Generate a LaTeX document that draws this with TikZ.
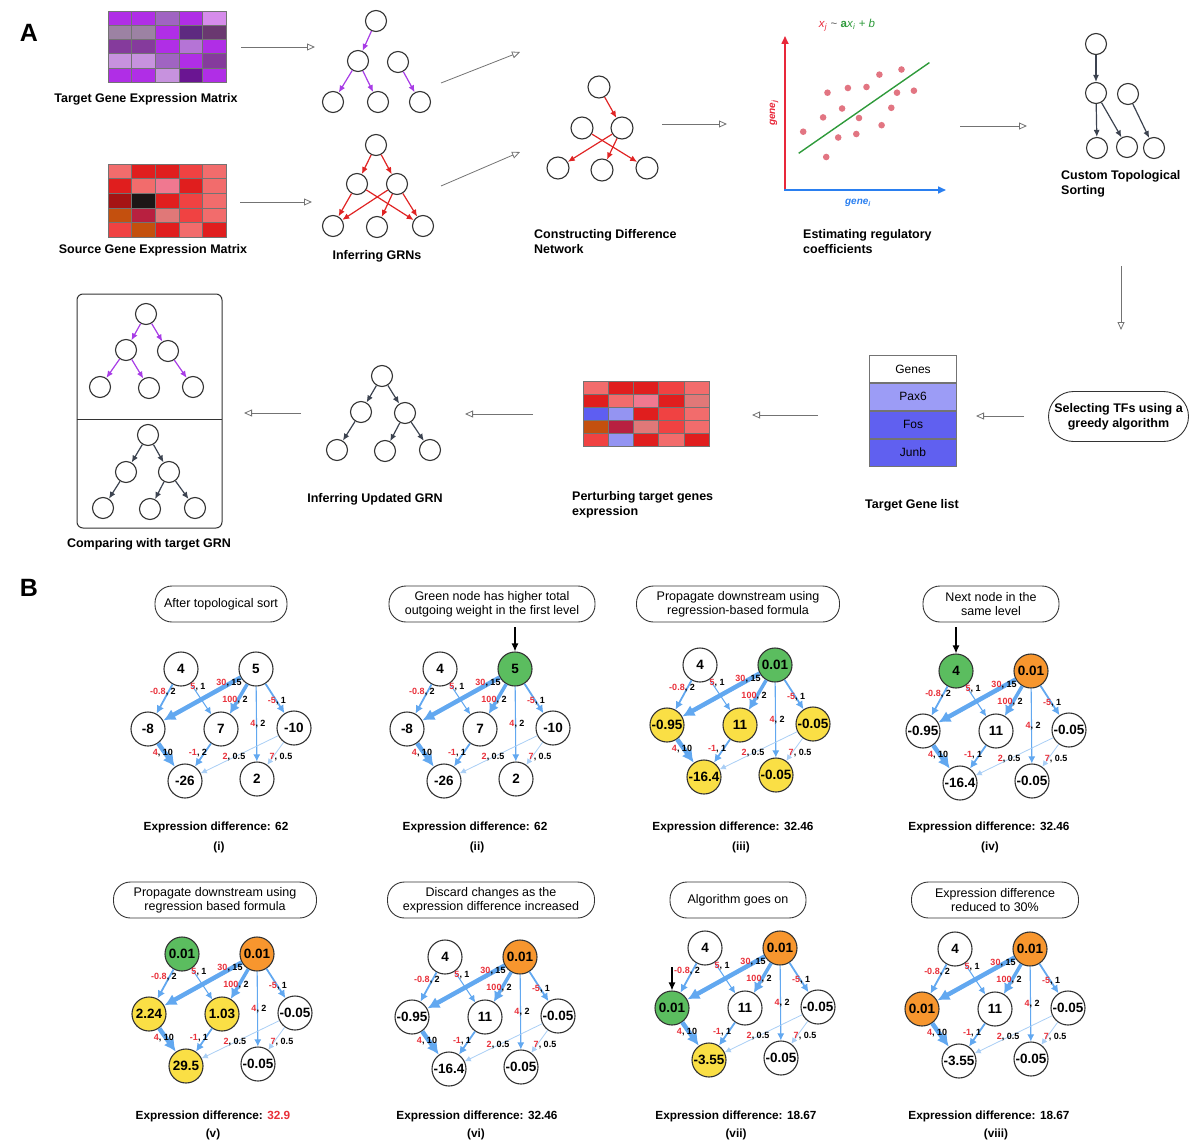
\documentclass[tikz,border=0pt]{standalone}
\usepackage{fontspec}
\setmainfont{Liberation Sans}
\usetikzlibrary{arrows.meta}
\usetikzlibrary{positioning}

\definecolor{ndark}{HTML}{333333}
\definecolor{purpE}{HTML}{A83CE6}
\definecolor{redE}{HTML}{E02424}
\definecolor{dkE}{HTML}{3C4350}
\definecolor{eblue}{HTML}{62A8F0}
\definecolor{elight}{HTML}{A9CEF5}
\definecolor{lred}{HTML}{E8303A}
\definecolor{ngreen}{HTML}{5BBD5F}
\definecolor{norange}{HTML}{F7962E}
\definecolor{nyellow}{HTML}{FADF45}
\definecolor{axred}{HTML}{E8283A}
\definecolor{axblue}{HTML}{2A7FF0}
\definecolor{lgreen}{HTML}{2E9A3A}
\definecolor{dotc}{HTML}{E27582}
% heat map colours
\definecolor{pu1}{HTML}{B02EE6}
\definecolor{pu2}{HTML}{D68CEB}
\definecolor{pu3}{HTML}{9C82A3}
\definecolor{pu4}{HTML}{853B9C}
\definecolor{pu5}{HTML}{5E2A80}
\definecolor{pu6}{HTML}{C792DE}
\definecolor{pu7}{HTML}{A064C2}
\definecolor{pu8}{HTML}{6A1592}
\definecolor{pu9}{HTML}{B574D6}
\definecolor{pu0}{HTML}{6A3870}
\definecolor{re1}{HTML}{F26C6C}
\definecolor{re2}{HTML}{E01E1E}
\definecolor{re3}{HTML}{F04242}
\definecolor{re4}{HTML}{F07890}
\definecolor{re5}{HTML}{A51414}
\definecolor{re6}{HTML}{1C1616}
\definecolor{re7}{HTML}{C4500E}
\definecolor{re8}{HTML}{B82040}
\definecolor{re9}{HTML}{E07878}
\definecolor{bl1}{HTML}{5E5EF2}
\definecolor{bl2}{HTML}{9494F2}
\definecolor{gl1}{HTML}{9C9CF6}
\definecolor{gl2}{HTML}{6060F0}

\newcommand{\wred}[1]{\textcolor{lred}{#1}}

\newcommand{\heatmap}[5]{%
  \foreach \row [count=\r] in {#5} {
    \foreach \c [count=\k] in \row {
      \filldraw[fill=\c, draw=black!55, line width=0.5pt] ({#1+(\k-1)*#3},{#2+(\r-1)*#4}) rectangle ++(#3,#4);
    }
  }
}

\newcommand{\grnstep}[9]{%
  \node[bnode] (#1a) at (0,0) #2;
  \node[bnode] (#1b) at (75,0) #3;
  \node[bnode] (#1c) at (-33,60) #4;
  \node[bnode] (#1d) at (40,60) #5;
  \node[bnode] (#1e) at (113,59) #6;
  \node[bnode] (#1f) at (4,112) #7;
  \node[bnode] (#1g) at (76,110) #8;
  \draw[ew3] (#1a) -- (#1c);
  \draw[ew2] (#1a) -- (#1d);
  \draw[ew5] (#1b) -- (#1c);
  \draw[ew4] (#1b) -- (#1d);
  \draw[ew3] (#1b) -- (#1e);
  \draw[ew2] (#1b) -- (#1g);
  \draw[ew5] (#1c) -- (#1f);
  \draw[ew3] (#1d) -- (#1f);
  \draw[ew1] (#1e) -- (#1f);
  \draw[ew1] (#1e) -- (#1g);
  \node[wlab] (#1w1) at (-18,23) {\wred{-0.8}, 2};
  \node[wlab] (#1w2) at (17,18) {\wred{5}, 1};
  \node[wlab] (#1w3) at (48,14) {\wred{30}, 15};
  \node[wlab] (#1w4) at (54,31) {\wred{100}, 2};
  \node[wlab] (#1w5) at (96,32) {\wred{-5}, 1};
  \node[wlab] (#1w6) at (77,55) {\wred{4}, 2};
  \node[wlab] (#1w7) at (-18,84) {\wred{4}, 10};
  \node[wlab] (#1w8) at (17,84) {\wred{-1}, #9};
  \node[wlab] (#1w9) at (53,88) {\wred{2}, 0.5};
  \node[wlab] (#1w10) at (100,88) {\wred{7}, 0.5};
}

\begin{document}
\begin{tikzpicture}[x=1pt, y=-1pt,
    snode/.style={circle, draw=ndark, line width=1.1pt, minimum size=21pt, inner sep=0pt},
    flow/.style={draw=black!55, line width=0.8pt, -{Triangle[open, length=8pt, width=7pt]}},
    pedge/.style={draw=purpE, line width=1.2pt, -{Latex[length=7pt, width=6pt]}, color=purpE},
    redge/.style={draw=redE, line width=1.2pt, -{Latex[length=7pt, width=6pt]}, color=redE},
    dedge/.style={draw=dkE, line width=1.2pt, -{Latex[length=7pt, width=6pt]}, color=dkE},
    albl/.style={font=\bfseries\fontsize{12.5}{15}\selectfont, align=left, inner sep=0pt},
    bnode/.style={circle, draw=ndark, line width=1.1pt, minimum size=34pt, inner sep=0pt, font=\bfseries\fontsize{13.5}{13.5}\selectfont},
    wnode/.style={fill=white}, gnode/.style={fill=ngreen}, onode/.style={fill=norange}, ynode/.style={fill=nyellow},
    ew1/.style={draw=elight, color=elight, line width=0.8pt, -{Latex[length=6pt, width=6pt]}},
    ew2/.style={draw=eblue, color=eblue, line width=1.1pt, -{Latex[length=7pt, width=7pt]}},
    ew3/.style={draw=eblue, color=eblue, line width=1.8pt, -{Latex[length=8pt, width=8pt]}},
    ew4/.style={draw=eblue, color=eblue, line width=3.5pt, -{Latex[length=10pt, width=11pt]}},
    ew5/.style={draw=eblue, color=eblue, line width=4.5pt, -{Latex[length=12pt, width=12pt]}},
    wlab/.style={font=\bfseries\fontsize{9}{9}\selectfont, inner sep=0.5pt},
    callout/.style={draw=ndark, line width=0.9pt, rounded corners=17pt, minimum height=36pt, align=center, font=\fontsize{12.5}{14}\selectfont},
    exlbl/.style={font=\bfseries\fontsize{11.8}{12}\selectfont},
    karrow/.style={draw=black, line width=1.2pt, -{Latex[length=8pt, width=7pt]}},
    gbox/.style={draw=black!55, line width=0.8pt, minimum width=87pt, minimum height=27pt, inner sep=0pt, font=\fontsize{12}{12}\selectfont}
  ]
  \useasboundingbox (0,0) rectangle (1200,1148);

  % ---------------- panel A ----------------
  \node[font=\bfseries\fontsize{25}{25}\selectfont] (pA) at (29,33) {A};

  % expression matrices
  \heatmap{108}{11}{23.6}{14.2}{{pu1,pu1,pu7,pu1,pu2},{pu3,pu3,pu1,pu5,pu0},{pu4,pu4,pu1,pu9,pu1},{pu6,pu6,pu7,pu1,pu4},{pu1,pu1,pu6,pu8,pu1}}
  \heatmap{108}{164}{23.6}{14.6}{{re1,re2,re2,re3,re1},{re2,re1,re4,re2,re1},{re5,re6,re2,re3,re1},{re7,re8,re9,re3,re1},{re3,re7,re2,re1,re2}}
  \node[albl] (tgtlbl) at (146,99) {Target Gene Expression Matrix};
  \node[albl] (srclbl) at (153,250) {Source Gene Expression Matrix};

  % target GRN
  \node[snode] (t1) at (376,21) {};
  \node[snode] (t2) at (358,61) {};
  \node[snode] (t3) at (398,62) {};
  \node[snode] (t4) at (333,102) {};
  \node[snode] (t5) at (378,102) {};
  \node[snode] (t6) at (420,102) {};
  \draw[pedge] (t1) -- (t2);
  \draw[pedge] (t2) -- (t4);
  \draw[pedge] (t2) -- (t5);
  \draw[pedge] (t3) -- (t6);

  % source GRN
  \node[snode] (s1) at (376,145) {};
  \node[snode] (s2) at (357,184) {};
  \node[snode] (s3) at (397,184) {};
  \node[snode] (s4) at (333,226) {};
  \node[snode] (s5) at (377,227) {};
  \node[snode] (s6) at (423,226) {};
  \draw[redge] (s1) -- (s2);
  \draw[redge] (s1) -- (s3);
  \draw[redge] (s2) -- (s4);
  \draw[redge] (s2) -- (s6);
  \draw[redge] (s3) -- (s4);
  \draw[redge] (s3) -- (s5);
  \draw[redge] (s3) -- (s6);
  \node[albl] (inflbl) at (377,256) {Inferring GRNs};

  % difference network
  \node[snode, minimum size=22pt] (d1) at (599,87) {};
  \node[snode, minimum size=22pt] (d2) at (582,128) {};
  \node[snode, minimum size=22pt] (d3) at (622,128) {};
  \node[snode, minimum size=22pt] (d4) at (558,168) {};
  \node[snode, minimum size=22pt] (d5) at (602,170) {};
  \node[snode, minimum size=22pt] (d6) at (647,168) {};
  \draw[redge] (d1) -- (d3);
  \draw[redge] (d2) -- (d6);
  \draw[redge] (d3) -- (d4);
  \draw[redge] (d3) -- (d5);
  \node[albl, anchor=west] (difflbl) at (534,241.5) {Constructing Difference\\Network};

  % regression plot
  \draw[draw=axred, line width=1.6pt, -{Triangle[length=8pt, width=7pt]}, color=axred] (785,190.8) -- (785,36);
  \draw[draw=axblue, line width=1.6pt, -{Triangle[length=8pt, width=7pt]}, color=axblue] (784.2,190) -- (946,190);
  \foreach \px/\py in {827.5/92.7, 847.9/88, 866.5/87, 879.4/74.6, 901.5/69.5, 897/92.7, 913.9/90.7, 842.1/108.5, 823.1/117.4, 859/118, 891.3/107.8, 803.2/131.7, 838.2/137.5, 856.3/134, 881.6/125.2, 826.2/157}
    \fill[dotc] (\px,\py) circle (3.3);
  \draw[lgreen, line width=1.4pt] (798.7,153.3) -- (929.4,62.6);
  \node[rotate=90, text=axred, font=\bfseries\itshape\fontsize{10}{10}\selectfont] (ylbl) at (774,113) {gene\textsubscript{j}};
  \node[text=axblue, font=\bfseries\itshape\fontsize{10}{10}\selectfont] (xlbl) at (858,203) {gene\textsubscript{i}};
  \node[font=\fontsize{11.5}{11.5}\selectfont] (formula) at (847,25) {\textcolor{axred}{\textit{x}\textsubscript{\textit{j}}} \textcolor{black!65}{\textasciitilde} \textcolor{lgreen}{\textbf{a}\textit{x}\textsubscript{\textit{i}} + \textit{b}}};
  \node[albl, anchor=west] (estlbl) at (803,241.5) {Estimating regulatory\\coefficients};

  % topological sort
  \node[snode] (o1) at (1096,44) {};
  \node[snode] (o2) at (1096,93) {};
  \node[snode] (o3) at (1128,94) {};
  \node[snode] (o4) at (1097,148) {};
  \node[snode] (o5) at (1127,147) {};
  \node[snode] (o6) at (1154,148) {};
  \draw[dedge] (o1) -- (o2);
  \draw[dedge] (o2) -- (o4);
  \draw[dedge] (o2) -- (o5);
  \draw[dedge] (o3) -- (o6);
  \node[albl, anchor=west] (toplbl) at (1061,183.5) {Custom Topological\\Sorting};

  % greedy selection and gene list
  \node[draw=ndark, line width=0.9pt, rounded corners=25pt, minimum width=140pt, minimum height=50pt, align=center, font=\bfseries\fontsize{12.5}{15}\selectfont, inner sep=1pt] (greedy) at (1118.5,416.5) {Selecting TFs using a\\greedy algorithm};
  \node[gbox, fill=white] (genes) at (913,369) {Genes};
  \node[gbox, fill=gl1, below=0pt of genes] (pax6) {Pax6};
  \node[gbox, fill=gl2, below=0pt of pax6] (fos) {Fos};
  \node[gbox, fill=gl2, below=0pt of fos] (junb) {Junb};
  \node[albl] (listlbl) at (912,505.5) {Target Gene list};

  % perturbed expression
  \heatmap{583}{381}{25.2}{13.1}{{re1,re2,re2,re3,re1},{re2,re1,re4,re2,re9},{bl1,bl2,re2,re3,re1},{re7,re8,re9,re3,re1},{re3,bl2,re2,re1,re2}}
  \node[albl, anchor=west] (pertlbl) at (572,505) {Perturbing target genes\\expression};

  % updated GRN
  \node[snode] (u1) at (382,376) {};
  \node[snode] (u2) at (361,412) {};
  \node[snode] (u3) at (405,413) {};
  \node[snode] (u4) at (337,450) {};
  \node[snode] (u5) at (385,451) {};
  \node[snode] (u6) at (430,450) {};
  \draw[dedge] (u1) -- (u2);
  \draw[dedge] (u1) -- (u3);
  \draw[dedge] (u2) -- (u4);
  \draw[dedge] (u3) -- (u5);
  \draw[dedge] (u3) -- (u6);
  \node[albl] (updlbl) at (375,499) {Inferring Updated GRN};

  % comparison box
  \node[draw=ndark, line width=1pt, rounded corners=6pt, minimum width=145pt, minimum height=234pt] (cmpbox) at (149.5,411) {};
  \draw[ndark, line width=1pt] (cmpbox.west) ++(0,8.5) -- ++(145,0);
  \node[snode] (c1) at (146,314) {};
  \node[snode] (c2) at (126,350) {};
  \node[snode] (c3) at (168,351) {};
  \node[snode] (c4) at (100,387) {};
  \node[snode] (c5) at (149,388) {};
  \node[snode] (c6) at (193,387) {};
  \draw[pedge] (c1) -- (c2);
  \draw[pedge] (c1) -- (c3);
  \draw[pedge] (c2) -- (c4);
  \draw[pedge] (c2) -- (c5);
  \draw[pedge] (c3) -- (c6);
  \node[snode] (k1) at (148,435) {};
  \node[snode] (k2) at (126,472) {};
  \node[snode] (k3) at (169,472) {};
  \node[snode] (k4) at (103,508) {};
  \node[snode] (k5) at (150,509) {};
  \node[snode] (k6) at (195,508) {};
  \draw[dedge] (k1) -- (k2);
  \draw[dedge] (k1) -- (k3);
  \draw[dedge] (k2) -- (k4);
  \draw[dedge] (k3) -- (k5);
  \draw[dedge] (k3) -- (k6);
  \node[albl] (cmplbl) at (149,544) {Comparing with target GRN};

  % workflow arrows
  \coordinate (f1s) at (241,47);   \coordinate (f1e) at (315,47);
  \coordinate (f2s) at (240,202);  \coordinate (f2e) at (312,202);
  \coordinate (f3s) at (441,83);   \coordinate (f3e) at (520,52);
  \coordinate (f4s) at (441,186);  \coordinate (f4e) at (520,152);
  \coordinate (f5s) at (662,124);  \coordinate (f5e) at (727,124);
  \coordinate (f6s) at (960,126);  \coordinate (f6e) at (1027,126);
  \coordinate (f7s) at (1121,266); \coordinate (f7e) at (1121,330);
  \coordinate (f8s) at (1024,416); \coordinate (f8e) at (976,416);
  \coordinate (f9s) at (818,415);  \coordinate (f9e) at (752,415);
  \coordinate (f10s) at (533,414); \coordinate (f10e) at (465,414);
  \coordinate (f11s) at (301,413); \coordinate (f11e) at (244,413);
  \foreach \i in {1,...,11}
    \draw[flow] (f\i s) -- (f\i e);

  % ---------------- panel B ----------------
  \node[font=\bfseries\fontsize{25}{25}\selectfont] (pB) at (29,588) {B};

  \node[callout, minimum width=132pt] (n1) at (221,604) {After topological sort};
  \node[callout, minimum width=206pt] (n2) at (492,604) {Green node has higher total\\outgoing weight in the first level};
  \node[callout, minimum width=203pt] (n3) at (738,604) {Propagate downstream using\\regression-based formula};
  \node[callout, minimum width=136pt] (n4) at (991,604) {Next node in the\\same level};
  \node[callout, minimum width=203pt] (n5) at (215,900) {Propagate downstream using\\regression based formula};
  \node[callout, minimum width=207pt] (n6) at (491,900) {Discard changes as the\\expression difference increased};
  \node[callout, minimum width=136pt] (n7) at (738,900) {Algorithm goes on};
  \node[callout, minimum width=167pt] (n8) at (995,900) {Expression difference\\reduced to 30\%};

  \begin{scope}[shift={(181,669)}]
    \grnstep{p1}{[wnode]{4}}{[wnode]{5}}{[wnode]{-8}}{[wnode]{7}}{[wnode]{-10}}{[wnode]{-26}}{[wnode]{2}}{2}
  \end{scope}
  \begin{scope}[shift={(440,669)}]
    \grnstep{p2}{[wnode]{4}}{[gnode]{5}}{[wnode]{-8}}{[wnode]{7}}{[wnode]{-10}}{[wnode]{-26}}{[wnode]{2}}{1}
  \end{scope}
  \begin{scope}[shift={(700,665)}]
    \grnstep{p3}{[wnode]{4}}{[gnode]{0.01}}{[ynode]{-0.95}}{[ynode]{11}}{[ynode]{-0.05}}{[ynode]{-16.4}}{[ynode]{-0.05}}{1}
  \end{scope}
  \begin{scope}[shift={(956,671)}]
    \grnstep{p4}{[gnode]{4}}{[onode]{0.01}}{[wnode]{-0.95}}{[wnode]{11}}{[wnode]{-0.05}}{[wnode]{-16.4}}{[wnode]{-0.05}}{1}
  \end{scope}
  \begin{scope}[shift={(182,954)}]
    \grnstep{p5}{[gnode]{0.01}}{[onode]{0.01}}{[ynode]{2.24}}{[ynode]{1.03}}{[wnode]{-0.05}}{[ynode]{29.5}}{[wnode]{-0.05}}{1}
  \end{scope}
  \begin{scope}[shift={(445,957)}]
    \grnstep{p6}{[wnode]{4}}{[onode]{0.01}}{[wnode]{-0.95}}{[wnode]{11}}{[wnode]{-0.05}}{[wnode]{-16.4}}{[wnode]{-0.05}}{1}
  \end{scope}
  \begin{scope}[shift={(705,948)}]
    \grnstep{p7}{[wnode]{4}}{[onode]{0.01}}{[gnode]{0.01}}{[wnode]{11}}{[wnode]{-0.05}}{[ynode]{-3.55}}{[wnode]{-0.05}}{1}
  \end{scope}
  \begin{scope}[shift={(955,949)}]
    \grnstep{p8}{[wnode]{4}}{[onode]{0.01}}{[onode]{0.01}}{[wnode]{11}}{[wnode]{-0.05}}{[wnode]{-3.55}}{[wnode]{-0.05}}{1}
  \end{scope}

  % pointers to the current node
  \coordinate (k2s) at (515,627);
  \coordinate (k4s) at (956,627);
  \coordinate (k7s) at (672,967);
  \draw[karrow] (k2s) -- (p2b);
  \draw[karrow] (k4s) -- (p4a);
  \draw[karrow] (k7s) -- (p7c);

  % results
  \node[exlbl] (r1) at (216,827) {Expression difference: 62};
  \node[exlbl] (r2) at (475,827) {Expression difference: 62};
  \node[exlbl] (r3) at (733,827) {Expression difference: 32.46};
  \node[exlbl] (r4) at (989,827) {Expression difference: 32.46};
  \node[exlbl] (r5) at (213,1116) {Expression difference: \textcolor{lred}{32.9}};
  \node[exlbl] (r6) at (477,1116) {Expression difference: 32.46};
  \node[exlbl] (r7) at (736,1116) {Expression difference: 18.67};
  \node[exlbl] (r8) at (989,1116) {Expression difference: 18.67};
  \node[exlbl] (q1) at (219,847) {(i)};
  \node[exlbl] (q2) at (477,847) {(ii)};
  \node[exlbl] (q3) at (741,847) {(iii)};
  \node[exlbl] (q4) at (990,847) {(iv)};
  \node[exlbl] (q5) at (213,1134) {(v)};
  \node[exlbl] (q6) at (476,1134) {(vi)};
  \node[exlbl] (q7) at (736,1134) {(vii)};
  \node[exlbl] (q8) at (996,1134) {(viii)};
\end{tikzpicture}
\end{document}
